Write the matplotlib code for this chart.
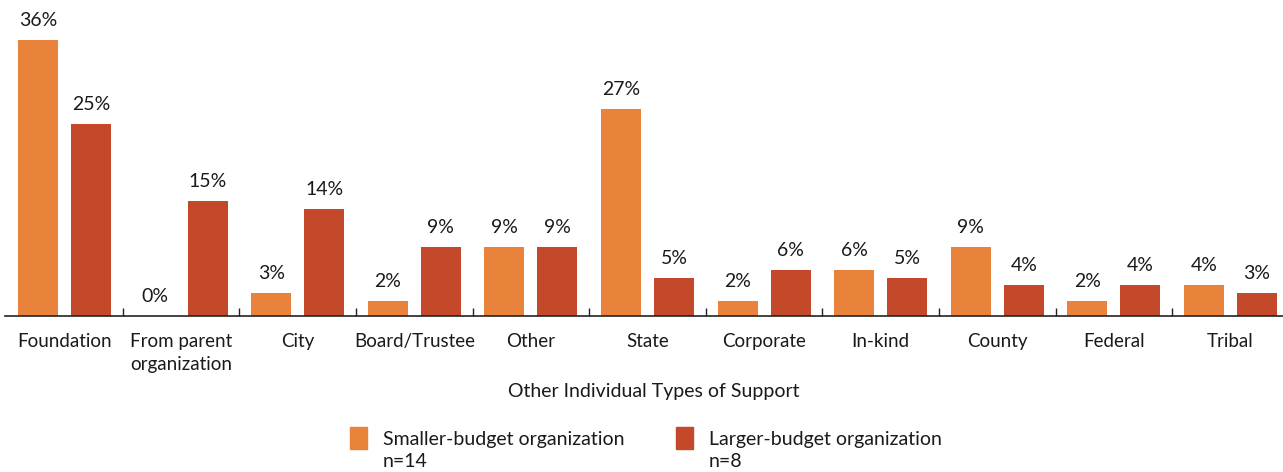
import matplotlib
matplotlib.use("Agg")
import matplotlib.pyplot as plt
import numpy as np
from matplotlib.patches import Rectangle

categories = ["Foundation", "From parent\norganization", "City", "Board/Trustee", "Other",
              "State", "Corporate", "In-kind", "County", "Federal", "Tribal"]
smaller = [36, 0, 3, 2, 9, 27, 2, 6, 9, 2, 4]
larger = [25, 15, 14, 9, 9, 5, 6, 5, 4, 4, 3]
series_names = ["Smaller-budget organization\nn=14", "Larger-budget organization\nn=8"]
xlabel = "Other Individual Types of Support"

c_small = "#E9823A"
c_large = "#C4482A"
txt = "#1a1a1a"

plt.rcParams["font.family"] = ["Lato", "DejaVu Sans"]

W, H = 1283, 472
fig = plt.figure(figsize=(W / 100, H / 100), dpi=100)
ax = fig.add_axes([5 / W, 156 / H, 1278 / W, 316 / H])

x = np.arange(len(categories))
w = 0.343
off = 0.227
b1 = ax.bar(x - off, smaller, w, color=c_small)
b2 = ax.bar(x + off, larger, w, color=c_large)

for bars, vals in ((b1, smaller), (b2, larger)):
    for rect, v in zip(bars, vals):
        ax.annotate(f"{v}%", (rect.get_x() + rect.get_width() / 2, v),
                    xytext=(0, 8), textcoords="offset points",
                    ha="center", va="bottom", fontsize=14, color=txt)

ax.set_xlim(-0.51, len(categories) - 1 + 0.45)
ax.set_ylim(0, 41.2)

for s in ("top", "right", "left"):
    ax.spines[s].set_visible(False)
ax.spines["bottom"].set_color("#222222")
ax.spines["bottom"].set_linewidth(1.2)
ax.set_yticks([])

ax.set_xticks(x)
ax.set_xticklabels(categories, fontsize=13.5, color=txt, linespacing=1.45, va="top")
ax.tick_params(axis="x", which="major", length=0, pad=12)
ax.set_xticks(np.arange(0.5, len(categories) - 0.5, 1), minor=True)
ax.tick_params(axis="x", which="minor", direction="in", length=6, width=1, color="#222222")

fig.text(654 / W, 1 - 391 / H, xlabel, ha="center", va="center", fontsize=14, color=txt)

# legend drawn as swatches plus two-line labels
for (sx, tx), col, name in zip(((350, 383), (676, 709)), (c_small, c_large), series_names):
    fig.patches.append(Rectangle((sx / W, 1 - 449 / H), 17 / W, 22 / H,
                                 transform=fig.transFigure, color=col))
    fig.text(tx / W, 1 - 431 / H, name, ha="left", va="top", fontsize=14,
             color=txt, linespacing=1.35)

fig.savefig("out.png", dpi=100)
